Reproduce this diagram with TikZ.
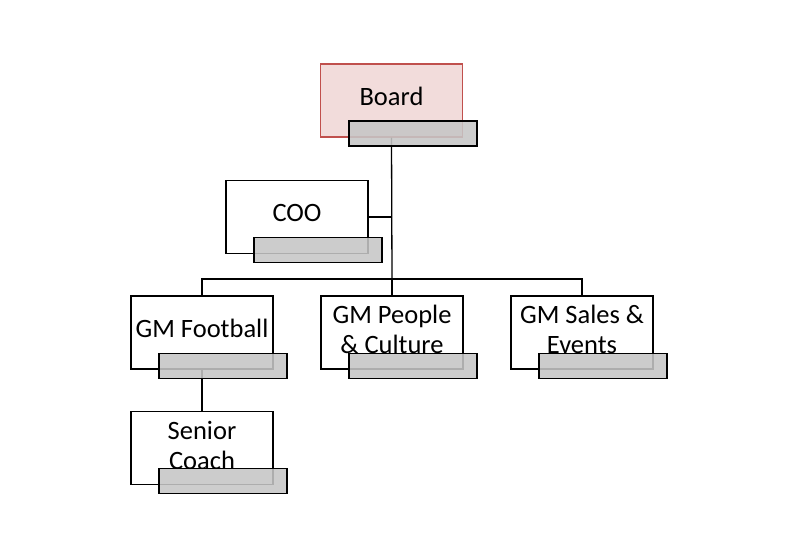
\documentclass[tikz,border=0pt]{standalone}
\usepackage{fontspec}
\setmainfont{Carlito}
\definecolor{boardfill}{RGB}{242,220,219}
\definecolor{boardline}{RGB}{192,80,77}
\definecolor{barfill}{RGB}{198,198,198}
\begin{document}
\begin{tikzpicture}[x=1pt,y=-1pt,
  orgbox/.style={draw=black,line width=1.3pt,fill=white,minimum width=142pt,minimum height=73pt,inner sep=0pt},
  boardbox/.style={orgbox,draw=boardline,fill=boardfill},
  greybar/.style={draw=black,line width=1.3pt,fill=barfill,fill opacity=0.88,minimum width=128pt,minimum height=25pt,inner sep=0pt},
  boxtext/.style={align=center,font=\fontsize{26.5}{30}\selectfont,inner sep=0pt},
  link/.style={draw=black,line width=1.3pt}]
\useasboundingbox (0,0) rectangle (795,555);
% boxes (drawn first so connectors and bars can be layered)
\node[boardbox] (board) at (391.5,100.5) {};
\node[orgbox] (coo) at (297,217) {};
\node[orgbox] (gmf) at (202,332.5) {};
\node[orgbox] (gmp) at (392,332.5) {};
\node[orgbox] (gms) at (582,332.5) {};
\node[orgbox] (coach) at (202,448) {};
% connectors
\coordinate (bus) at (392,279);
\draw[link] (board.south) -- (bus);
\draw[link] (coo.east) -- (coo.east -| bus);
\draw[link] (gmf.north) |- (bus) -| (gms.north);
\draw[link] (gmp.north) -- (bus);
\draw[link] (gmf.south) -- (coach.north);
% texts
\node[boxtext] (boardt) at ([yshift=4pt]board.center) {Board};
\node[boxtext] (coot) at ([yshift=4pt]coo.center) {COO};
\node[boxtext] (gmft) at ([yshift=4pt]gmf.center) {GM Football};
\node[boxtext] (gmpt) at ([yshift=3pt]gmp.center) {GM People\\\& Culture};
\node[boxtext] (gmst) at ([yshift=3pt]gms.center) {GM Sales \&\\Events};
\node[boxtext] (coacht) at ([yshift=3pt]coach.center) {Senior\\Coach};
% grey bars
\node[greybar] (boardbar) at (413,133.5) {};
\node[greybar] (coobar) at (318,250) {};
\node[greybar] (gmfbar) at (223,366) {};
\node[greybar] (gmpbar) at (413,366) {};
\node[greybar] (gmsbar) at (603,366) {};
\node[greybar] (coachbar) at (223,481) {};
\end{tikzpicture}
\end{document}
